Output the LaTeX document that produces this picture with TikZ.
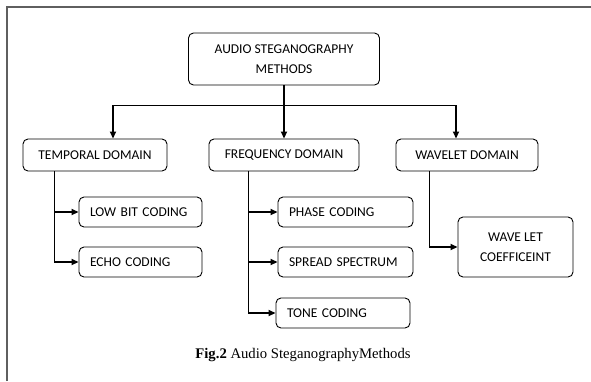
\documentclass[tikz,border=0pt]{standalone}
\usepackage{fontspec}
\setmainfont{Carlito}
\newfontfamily\capfont{Liberation Serif}
\usepackage{tikz}
\usetikzlibrary{positioning,arrows.meta,calc}
\definecolor{framegray}{RGB}{95,95,95}

\begin{document}
\begin{tikzpicture}[x=1pt,y=-1pt,>={Triangle[length=7pt,width=6pt]},
    box/.style={draw,rounded corners=5pt,align=center,font=\fontsize{13.5}{20}\selectfont,inner sep=0pt,line width=0.9pt},
    leaf/.style={box,minimum height=30pt,align=left,text width=#1,inner xsep=11pt},
    arr/.style={->,line width=1.7pt},
    trunk/.style={line width=0.9pt}]
    \useasboundingbox (0,0) rectangle (591,381);
    \draw[framegray,line width=2pt] (7,381) -- (7,7) -- (591,7);
    % top level
    \node[box,minimum width=191pt,minimum height=52pt] (root) at (284,59) {AUDIO STEGANOGRAPHY\\METHODS};
    \node[box,minimum width=144pt,minimum height=32pt] (temp) at (95,155) {TEMPORAL DOMAIN};
    \node[box,minimum width=150pt,minimum height=32pt] (freq) at (284,155) {FREQUENCY DOMAIN};
    \node[box,minimum width=142pt,minimum height=32pt] (wave) at (467,155) {WAVELET DOMAIN};
    % leaves
    \node[leaf=101pt] (lowbit) at (140.5,212) {LOW BIT CODING};
    \node[leaf=101pt] (echo) at (140.5,262) {ECHO CODING};
    \node[leaf=113pt] (phase) at (345.5,212) {PHASE CODING};
    \node[leaf=113pt] (spread) at (345.5,262) {SPREAD SPECTRUM};
    \node[leaf=112pt] (tone) at (343,313) {TONE CODING};
    \node[box,minimum width=115pt,minimum height=60pt] (coef) at (515.5,247) {WAVE LET\\COEFFICEINT};
    \node[font=\capfont\fontsize{14.7}{17}\selectfont] (cap) at (303,355) {\textbf{Fig.2} Audio SteganographyMethods};
    % root to domains
    \coordinate (bl) at (113,105);
    \coordinate (br) at (456,105);
    \draw[trunk] (bl) -- (br);
    \draw[arr] (root) -- (freq);
    \draw[arr] (bl) -- (bl |- temp.north);
    \draw[arr] (br) -- (br |- wave.north);
    % domains to methods
    \coordinate (tt) at (54,171);
    \coordinate (ft) at (248,171);
    \coordinate (wt) at (429,171);
    \draw[trunk] (tt) -- (tt |- echo.west);
    \draw[arr] (tt |- lowbit.west) -- (lowbit);
    \draw[arr] (tt |- echo.west) -- (echo);
    \draw[trunk] (ft) -- (ft |- tone.west);
    \draw[arr] (ft |- phase.west) -- (phase);
    \draw[arr] (ft |- spread.west) -- (spread);
    \draw[arr] (ft |- tone.west) -- (tone);
    \draw[trunk] (wt) -- (wt |- coef.west);
    \draw[arr] (wt |- coef.west) -- (coef);
  \end{tikzpicture}
\end{document}
